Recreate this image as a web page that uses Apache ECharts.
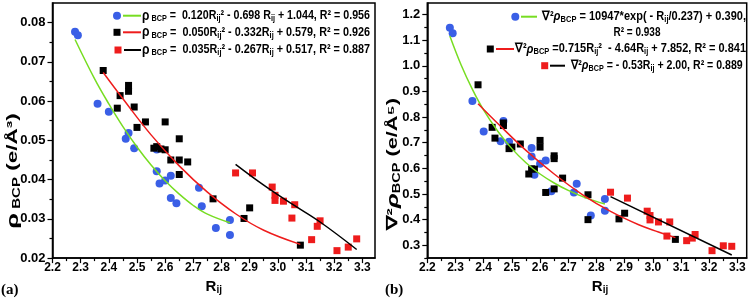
<!DOCTYPE html>
<html><head><meta charset="utf-8">
<script src="https://cdn.jsdelivr.net/npm/echarts@6/dist/echarts.min.js"></script>
<style>html,body{margin:0;padding:0;background:#fff}#c{width:753px;height:300px}</style>
</head><body><div id="c"></div>
<script>
// ---------- Panel (a) data ----------
const aBlueX = [2.28,2.29,2.36,2.40,2.47,2.46,2.49,2.57,2.57,2.58,2.60,2.62,2.62,2.64,2.72,2.73,2.78,2.83,2.83];
const aBlueY = [0.0777,0.0768,0.0593,0.0573,0.0519,0.0504,0.0480,0.0477,0.0421,0.0390,0.0398,0.0410,0.0353,0.0340,0.0379,0.0332,0.0277,0.0297,0.0259];
const aBlackX = [2.38,2.47,2.47,2.44,2.43,2.49,2.50,2.53,2.60,2.56,2.57,2.585,2.60,2.65,2.62,2.65,2.68,2.65,2.77,2.90,2.88,3.08];
const aBlackY = [0.0678,0.0640,0.0625,0.0614,0.0582,0.0585,0.0533,0.0547,0.0547,0.0480,0.0484,0.0478,0.0476,0.0504,0.0450,0.0450,0.0445,0.0413,0.0351,0.0328,0.0301,0.0233];
const aRedX = [2.85,2.91,2.98,2.99,2.99,3.02,3.06,3.05,3.15,3.14,3.12,3.21,3.25,3.28];
const aRedY = [0.0417,0.0417,0.0381,0.0360,0.0347,0.0345,0.0336,0.0302,0.0295,0.0281,0.0247,0.0219,0.0228,0.0249];
const aFitGreenX = [2.28,2.35,2.40,2.45,2.50,2.55,2.60,2.65,2.70,2.75,2.83];
const aFitGreenY = [0.0757,0.0656,0.0593,0.0535,0.0483,0.0437,0.0397,0.0363,0.0334,0.0312,0.0290];
const aFitRedX = [2.38,2.45,2.55,2.65,2.75,2.85,2.95,3.08];
const aFitRedY = [0.0673,0.0606,0.0514,0.0435,0.0368,0.0313,0.0271,0.0235];
const aFitBlackX = [2.85,2.95,3.05,3.15,3.28];
const aFitBlackY = [0.0439,0.0386,0.0338,0.0292,0.0222];

// ---------- Panel (b) data ----------
const bBlueX = [2.28,2.29,2.36,2.40,2.47,2.46,2.49,2.57,2.57,2.60,2.62,2.58,2.64,2.72,2.73,2.78,2.83,2.83];
const bBlueY = [1.148,1.127,0.863,0.744,0.785,0.706,0.704,0.679,0.646,0.618,0.631,0.575,0.511,0.506,0.540,0.416,0.481,0.435];
const bBlackX = [2.38,2.43,2.47,2.47,2.44,2.49,2.50,2.53,2.60,2.60,2.65,2.65,2.56,2.57,2.58,2.68,2.62,2.65,2.77,2.77,2.88,2.90,3.08];
const bBlackY = [0.926,0.760,0.777,0.767,0.718,0.677,0.683,0.695,0.709,0.683,0.649,0.638,0.578,0.598,0.597,0.562,0.506,0.520,0.497,0.400,0.403,0.425,0.323];
const bRedX = [2.85,2.91,2.98,2.99,2.99,3.02,3.06,3.05,3.12,3.14,3.15,3.21,3.25,3.28];
const bRedY = [0.507,0.484,0.433,0.416,0.399,0.391,0.391,0.336,0.318,0.328,0.342,0.279,0.298,0.296];
const bFitGreenX = [2.28,2.32,2.36,2.40,2.45,2.50,2.55,2.60,2.65,2.70,2.76,2.83];
const bFitGreenY = [1.116,1.003,0.908,0.827,0.745,0.677,0.622,0.578,0.543,0.514,0.486,0.461];
const bFitRedX = [2.38,2.45,2.55,2.65,2.75,2.85,2.95,3.02,3.08];
const bFitRedY = [0.852,0.775,0.670,0.578,0.498,0.432,0.380,0.352,0.330];
const bFitBlackX = [2.85,3.28];
const bFitBlackY = [0.490,0.262];

// ---------- tick labels ----------
const xTicks = [2.2,2.3,2.4,2.5,2.6,2.7,2.8,2.9,3.0,3.1,3.2,3.3];
const xMinor = [2.25,2.35,2.45,2.55,2.65,2.75,2.85,2.95,3.05,3.15,3.25];
const yTicksA = [0.02,0.03,0.04,0.05,0.06,0.07,0.08];
const yMinorA = [0.025,0.035,0.045,0.055,0.065,0.075];
const yTicksB = [0.3,0.4,0.5,0.6,0.7,0.8,0.9,1.0,1.1,1.2];
const yMinorB = [0.25,0.35,0.45,0.55,0.65,0.75,0.85,0.95,1.05,1.15];

const BLUE = '#3a5fe6', GREEN = '#77dd22', RED = '#ee1c1c', BLACK = '#000';
const TF = "'Liberation Sans', Arial, sans-serif";
const LF = "'Liberation Sans', Arial, sans-serif";
const pts = (xs, ys) => xs.map((x, i) => [x, ys[i]]);

const chart = echarts.init(document.getElementById('c'), null, {renderer: 'canvas'});

function mainX(gi, max, namePad) {
  return {type: 'value', gridIndex: gi, min: 2.2, max: max, position: 'bottom',
    axisLine: {show: true, lineStyle: {color: '#000', width: 1.5}},
    axisTick: {show: true, inside: false, length: 5, lineStyle: {color: '#000', width: 1.2}, customValues: xTicks},
    axisLabel: {customValues: xTicks, margin: 4, fontFamily: TF, fontWeight: 'bold', fontSize: 12, color: '#000',
      formatter: v => v.toFixed(1)},
    splitLine: {show: false},
    name: 'R{s|ij}', nameLocation: 'middle', nameGap: 19,
    nameTextStyle: {fontFamily: TF, fontWeight: 'bold', fontSize: 15, color: '#000', padding: namePad,
      rich: {s: {fontFamily: TF, fontWeight: 'bold', fontSize: 10, color: '#000', padding: [7, 0, 0, 0]}}}
  };
}
function minorX(gi, max) {
  return {type: 'value', gridIndex: gi, min: 2.2, max: max, position: 'bottom',
    axisLine: {show: false}, axisLabel: {show: false}, splitLine: {show: false},
    axisTick: {show: true, inside: false, length: 3, lineStyle: {color: '#000', width: 1.2}, customValues: xMinor}};
}
function mainY(gi, min, max, ticks, dec) {
  return {type: 'value', gridIndex: gi, min: min, max: max, position: 'left',
    axisLine: {show: true, lineStyle: {color: '#000', width: 1.5}},
    axisTick: {show: true, inside: false, length: 5, lineStyle: {color: '#000', width: 1.2}, customValues: ticks},
    axisLabel: {customValues: ticks, margin: 7, fontFamily: TF, fontWeight: 'bold', fontSize: 13, color: '#000',
      formatter: v => v.toFixed(dec)},
    splitLine: {show: false}};
}
function minorY(gi, min, max, ticks) {
  return {type: 'value', gridIndex: gi, min: min, max: max, position: 'left',
    axisLine: {show: false}, axisLabel: {show: false}, splitLine: {show: false},
    axisTick: {show: true, inside: false, length: 3, lineStyle: {color: '#000', width: 1.2}, customValues: ticks}};
}
function scat(xi, data, sym, size, color) {
  return {type: 'scatter', xAxisIndex: xi, yAxisIndex: xi, data: data, symbol: sym, symbolSize: size,
    itemStyle: {color: color, opacity: 1}, z: 3};
}
function fit(xi, data, color) {
  return {type: 'line', xAxisIndex: xi, yAxisIndex: xi, data: data, showSymbol: false, symbol: 'none',
    smooth: 0.4, lineStyle: {color: color, width: 1.5}, z: 4};
}

const legRich = {
  s: {fontFamily: LF, fontWeight: 'bold', fontSize: 8.5, fill: '#000', padding: [6, 0, 0, 0]},
  g: {fontFamily: TF, fontWeight: 'bold', fontSize: 14, fill: '#000'},
  i: {fontFamily: TF, fontWeight: 'bold', fontStyle: 'italic', fontSize: 13, fill: '#000'}
};
const legStyleBase = {fontFamily: LF, fontWeight: 'bold', fontSize: 12.5, fill: '#000'};
function measure(text) {
  try {
    const t = new echarts.graphic.Text({style: Object.assign({text: text, rich: legRich}, legStyleBase)});
    const w = t.getBoundingRect().width;
    return w > 0 ? w : null;
  } catch (e) { return null; }
}
function legText(x, y, text, targetW, align, fallback) {
  const w = targetW ? measure(text) : null;
  const sx = w ? targetW / w : fallback;
  return {type: 'text', x: x, y: y, z: 10, scaleX: sx, scaleY: 1,
    style: Object.assign({text: text, align: align || 'left', textAlign: align || 'left',
      verticalAlign: 'middle', textVerticalAlign: 'middle', rich: legRich}, legStyleBase)};
}
function legLine(x1, x2, y, color) {
  return {type: 'line', z: 10, shape: {x1: x1, y1: y, x2: x2, y2: y}, style: {stroke: color, lineWidth: 2}};
}
function legCircle(x, y, color) {
  return {type: 'circle', z: 10, shape: {cx: x, cy: y, r: 4}, style: {fill: color}};
}
function legSquare(x, y, color) {
  return {type: 'rect', z: 10, shape: {x: x - 3.5, y: y - 3.5, width: 7, height: 7}, style: {fill: color}};
}
const titleRich = {
  g: {fontFamily: TF, fontWeight: 'bold', fontSize: 17, fill: '#000'},
  s: {fontFamily: TF, fontWeight: 'bold', fontSize: 10, fill: '#000', padding: [8, 0, 0, 0]},
  i: {fontFamily: TF, fontWeight: 'bold', fontStyle: 'italic', fontSize: 17, fill: '#000'}
};
function yTitle(x, y, text, sx) {
  return {type: 'text', x: x, y: y, rotation: Math.PI / 2, scaleX: sx, scaleY: 1, z: 10,
    style: {text: text, fontFamily: TF, fontWeight: 'bold', fontSize: 15, fill: '#000',
      align: 'center', textAlign: 'center', verticalAlign: 'middle', textVerticalAlign: 'middle', rich: titleRich}};
}
function panelTag(x, y, text) {
  return {type: 'text', x: x, y: y, z: 10,
    style: {text: text, fontFamily: "'Liberation Serif', serif", fontWeight: 'bold', fontSize: 15, fill: '#000',
      align: 'left', textAlign: 'left', verticalAlign: 'middle', textVerticalAlign: 'middle'}};
}

const option = {
  animation: false,
  backgroundColor: '#fff',
  grid: [
    {left: 52.5, top: 3, width: 322.5, height: 258, show: true, borderColor: '#000', borderWidth: 1.5, containLabel: false},
    {left: 427.3, top: 3, width: 319.4, height: 258, show: true, borderColor: '#000', borderWidth: 1.5, containLabel: false}
  ],
  xAxis: [mainX(0, 3.345, [0, 0, 0, 0]), mainX(1, 3.333, [0, 0, 0, 26]), minorX(0, 3.345), minorX(1, 3.333)],
  yAxis: [mainY(0, 0.02, 0.085, yTicksA, 2), mainY(1, 0.25, 1.245, yTicksB, 1), minorY(0, 0.02, 0.085, yMinorA), minorY(1, 0.25, 1.245, yMinorB)],
  series: [
    scat(0, pts(aBlueX, aBlueY), 'circle', 8, BLUE),
    scat(0, pts(aBlackX, aBlackY), 'rect', 7, BLACK),
    scat(0, pts(aRedX, aRedY), 'rect', 7, RED),
    fit(0, pts(aFitGreenX, aFitGreenY), GREEN),
    fit(0, pts(aFitRedX, aFitRedY), RED),
    fit(0, pts(aFitBlackX, aFitBlackY), BLACK),
    scat(1, pts(bBlueX, bBlueY), 'circle', 8, BLUE),
    scat(1, pts(bBlackX, bBlackY), 'rect', 7, BLACK),
    scat(1, pts(bRedX, bRedY), 'rect', 7, RED),
    fit(1, pts(bFitGreenX, bFitGreenY), GREEN),
    fit(1, pts(bFitRedX, bFitRedY), RED),
    fit(1, pts(bFitBlackX, bFitBlackY), BLACK)
  ],
  graphic: [
    // legend (a)
    legCircle(117, 15.7, BLUE), legLine(123, 141, 15.7, GREEN),
    legText(142, 15.7, '{g|ρ}{s| BCP} =  0.120R{s|ij}² - 0.698 R{s|ij} + 1.044, R² = 0.956', 228, 'left', 0.92),
    legSquare(117, 32.3, BLACK), legLine(123, 141, 32.3, RED),
    legText(142, 32.3, '{g|ρ}{s| BCP} =  0.050R{s|ij}² - 0.332R{s|ij} + 0.579, R² = 0.926', 228, 'left', 0.92),
    legSquare(118, 50, RED), legLine(124, 141, 50, BLACK),
    legText(142, 50, '{g|ρ}{s| BCP} =  0.035R{s|ij}² - 0.267R{s|ij} + 0.517, R² = 0.887', 228, 'left', 0.92),
    // legend (b)
    legCircle(515.3, 16.7, BLUE), legLine(521, 537, 16.7, GREEN),
    legText(542, 16.7, '∇²{i|ρ}{s|BCP} = 10947*exp( - R{s|ij}/0.237) + 0.390,', 204, 'left', 0.86),
    legText(637, 32.3, 'R² = 0.938', null, 'center', 0.8),
    legSquare(490.3, 49, BLACK), legLine(496, 514, 49, RED),
    legText(515, 49, '∇²{i|ρ}{s|BCP} =0.715R{s|ij}²  - 4.64R{s|ij} + 7.852, R² = 0.841', 231, 'left', 0.88),
    legSquare(544.7, 65.7, RED), legLine(550, 565, 65.7, BLACK),
    legText(570.7, 65.7, '∇²{i|ρ}{s|BCP} = - 0.53R{s|ij} + 2.00, R² = 0.889', 172, 'left', 0.88),
    // axis titles
    yTitle(13, 171, '{g|ρ}{s| BCP} (e/Å³)', 1.5),
    yTitle(393, 164, '∇²{i|ρ}{s|BCP} (e/Å⁵)', 1.45),
    panelTag(1, 290, '(a)'),
    panelTag(385, 290, '(b)')
  ]
};
chart.setOption(option);
</script></body></html>
